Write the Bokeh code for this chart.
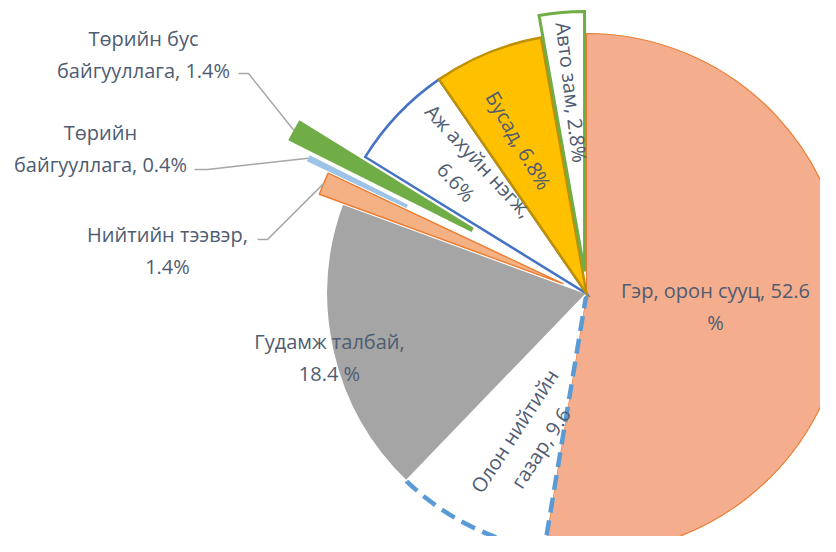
import numpy as np
from bokeh.plotting import figure
from bokeh.models import Range1d
from bokeh.core.properties import value
from bokeh.embed import file_html
from bokeh.resources import INLINE

# ---- data ----
categories = ["Гэр, орон сууц", "Олон нийтийн газар", "Гудамж талбай", "Нийтийн тээвэр",
              "Төрийн байгууллага", "Төрийн бус байгууллага", "Аж ахуйн нэгж", "Бусад", "Авто зам"]
shares = [52.6, 9.6, 18.4, 1.4, 0.4, 1.4, 6.6, 6.8, 2.8]
label_texts = ["Гэр, орон сууц, 52.6\n%", "Олон нийтийн\nгазар, 9.6", "Гудамж талбай,\n18.4 %",
               "Нийтийн тээвэр,\n1.4%", "Төрийн\nбайгууллага, 0.4%", "Төрийн бус\nбайгууллага, 1.4%",
               "Аж ахуйн нэгж,\n6.6%", "Бусад, 6.8%", "Авто зам, 2.8%"]

# ---- style / layout ----
R = 260.0
explode = [0, 0, 0, 0.096, 0.19, 0.29, 0, 0, 0.085]
fills = ["#F4AE8E", "#FFFFFF", "#A5A5A5", "#F4B183", "#9DC3E6", "#70AD47", "#FFFFFF", "#FFC000", "#FFFFFF"]
lines = ["#ED7D31", None, "#FFFFFF", "#ED7D31", None, None, "#4472C4", "#BF9000", "#70AD47"]
lwidths = [1.2, 0, 1.5, 1.5, 0, 0, 2.5, 2.5, 3]
inner = [0, 0, 0, 0, 150, 55, 0, 0, 0]
# label positions (relative to pie centre, px, y up) and rotation in degrees
lab_x = [129, -59, -257, -419, -486, -443, -119, -68, -15]
lab_y = [-13, -146, -64, 43, 145, 239, 122, 153, 201]
lab_rot = [0, 57, 0, 0, 0, 0, -47, -60, -83]
# leader line label-side points for outside labels (index: [x0, x1], y)
leaders = {3: ([-329, -319], 54), 4: ([-392, -379], 124), 5: ([-348, -338], 220)}

TXT = "#4F5C71"
FONT = value("Open Sans")

vals = np.array(shares)
cum = np.concatenate([[0], np.cumsum(vals)]) / vals.sum()
start = np.deg2rad(90 - cum[:-1] * 360)
end = np.deg2rad(90 - cum[1:] * 360)
mid = (start + end) / 2
off = np.array(explode) * R
cx = off * np.cos(mid)
cy = off * np.sin(mid)

p = figure(width=820, height=536, x_range=Range1d(-586, 234), y_range=Range1d(-243, 293),
           output_backend="svg", toolbar_location=None, min_border=0,
           x_axis_location=None, y_axis_location=None)
p.grid.visible = False
p.outline_line_color = None
p.background_fill_color = "white"

for i in range(len(vals)):
    kw = dict(x=[cx[i]], y=[cy[i]], start_angle=[end[i]], end_angle=[start[i]],
              fill_color=fills[i], direction="anticlock")
    if lines[i] is None:
        kw.update(line_color=None)
    else:
        kw.update(line_color=lines[i], line_width=lwidths[i], line_join="miter")
    if inner[i] > 0:
        p.annular_wedge(inner_radius=[inner[i]], outer_radius=[R], **kw)
    else:
        p.wedge(radius=[R], **kw)
    if i == 1:
        # dashed outline of the public-place slice: arc + edge next to the first slice
        p.arc(x=[cx[i]], y=[cy[i]], radius=[R], start_angle=[end[i]], end_angle=[start[i]],
              line_color="#5B9BD5", line_width=4.5, line_dash="15 8")
        p.segment(x0=[cx[i]], y0=[cy[i]], x1=[cx[i] + R * np.cos(start[i])],
                  y1=[cy[i] + R * np.sin(start[i])], line_color="#5B9BD5", line_width=4.5,
                  line_dash="15 8")
        p.segment(x0=[cx[i]], y0=[cy[i]], x1=[cx[i] + R * np.cos(end[i])],
                  y1=[cy[i] + R * np.sin(end[i])], line_color="#BDD7EE", line_width=1,
                  line_dash="6 4")

# leader lines
lx, ly = [], []
for i, (xs, yv) in leaders.items():
    ex = cx[i] + R * np.cos(mid[i])
    ey = cy[i] + R * np.sin(mid[i])
    lx.append([xs[0], xs[1], ex])
    ly.append([yv, yv, ey])
p.multi_line(xs=lx, ys=ly, line_color="#A6A6A6", line_width=1.5)

p.text(x=lab_x, y=lab_y, text=label_texts, angle=np.deg2rad(lab_rot).tolist(),
       text_font=FONT, text_font_size="20px", text_color=TXT,
       text_align="center", text_baseline="middle", text_line_height=1.15)

open("out.html", "w").write(file_html(p, INLINE))
